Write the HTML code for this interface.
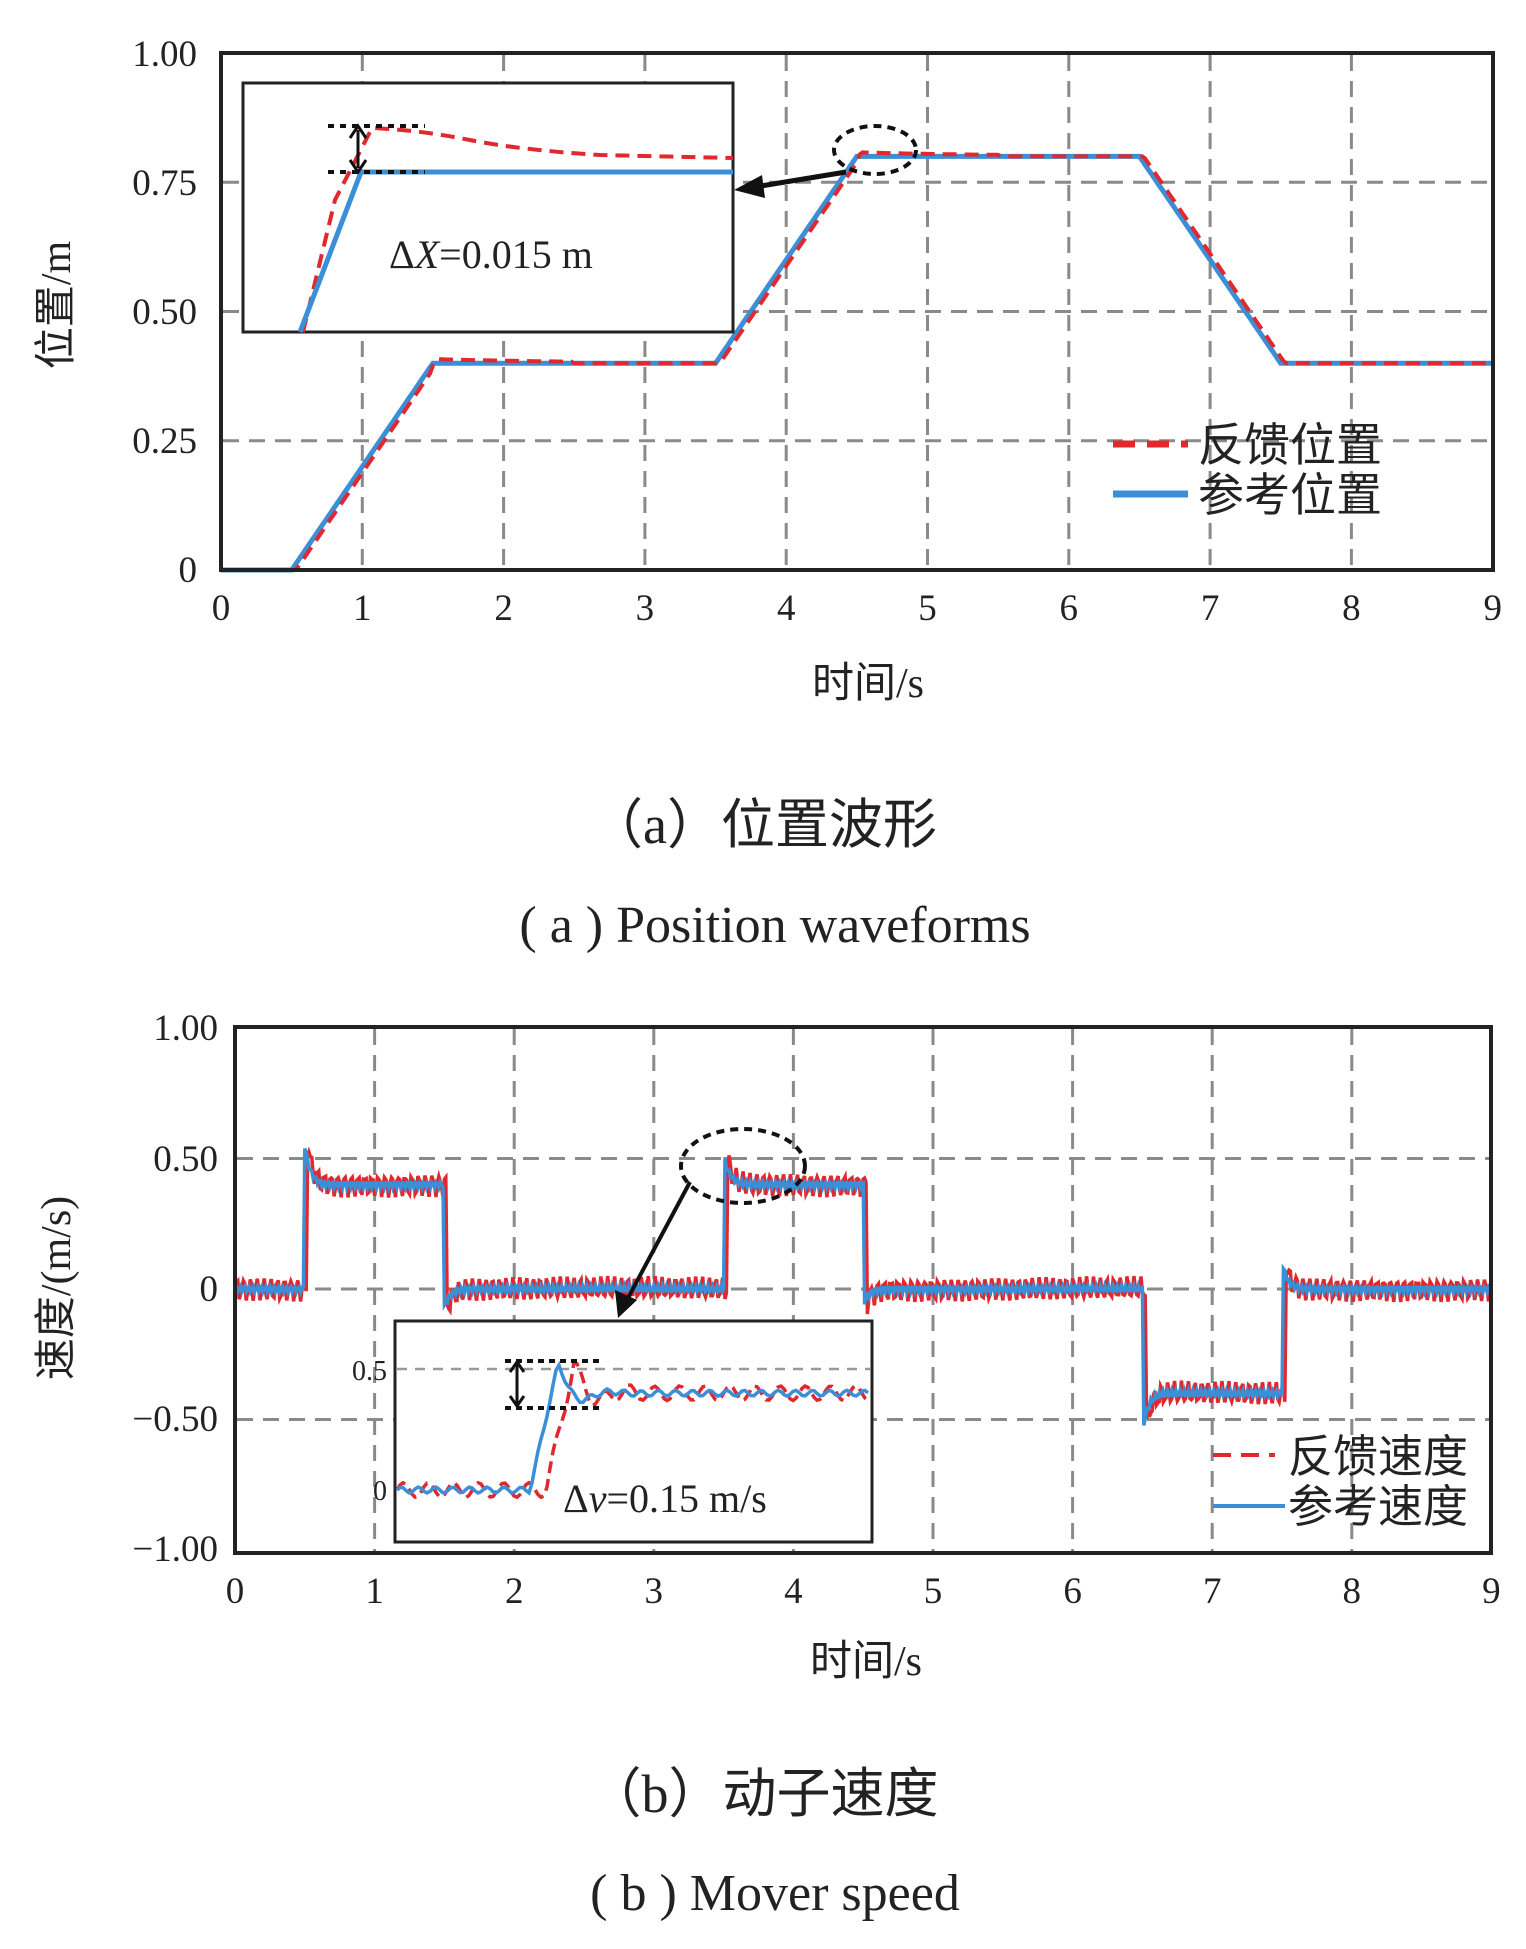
<!DOCTYPE html>
<html><head><meta charset="utf-8"><style>
html,body{margin:0;padding:0;background:#fff}
svg{display:block}
text{font-family:"Liberation Serif","Noto Serif CJK SC",serif;fill:#222}
.cj{font-family:"Liberation Serif","Noto Sans CJK SC",sans-serif}
</style></head><body>
<svg id="s" width="1526" height="1949" viewBox="0 0 1526 1949" xmlns="http://www.w3.org/2000/svg">
<rect width="1526" height="1949" fill="#fff"/>
<g id="grid" stroke="#8a8a8a" stroke-width="3" stroke-dasharray="16 10" fill="none"></g>
<!-- top plot -->
<g font-size="37" text-anchor="end">
<text x="197" y="66">1.00</text><text x="197" y="195">0.75</text><text x="197" y="324">0.50</text><text x="197" y="453">0.25</text><text x="197" y="582">0</text>
</g>
<g font-size="37" text-anchor="middle" id="xt1"></g>
<text x="868" y="697" font-size="42" text-anchor="middle" class="cj">时间/s</text>
<text transform="translate(70,305) rotate(-90)" font-size="42" text-anchor="middle" class="cj">位置/m</text>
<path id="p1b" fill="none" stroke="#3a8fd6" stroke-width="5"/>
<path id="p1r" fill="none" stroke="#e0282e" stroke-width="4" stroke-dasharray="14 8"/>
<!-- inset top -->
<rect x="243" y="83" width="490" height="249" fill="#fff" stroke="#222" stroke-width="3"/>
<path d="M303 332 L335 200 L372 128 Q420 130 470 140 T600 155 L733 158" fill="none" stroke="#e0282e" stroke-width="4" stroke-dasharray="14 8"/>
<path d="M300 332 L361 172 L733 172" fill="none" stroke="#3a8fd6" stroke-width="5"/>
<g stroke="#111" stroke-width="4" stroke-dasharray="6 6"><line x1="328" y1="126" x2="425" y2="126"/><line x1="328" y1="172" x2="425" y2="172"/></g>
<line x1="358" y1="130" x2="358" y2="168" stroke="#111" stroke-width="3"/>
<path d="M350 138 L358 126 L366 138 M350 160 L358 172 L366 160" stroke="#111" stroke-width="3" fill="none"/>
<text x="389" y="268" font-size="40">Δ<tspan font-style="italic">X</tspan>=0.015 m</text>
<ellipse cx="875" cy="150" rx="41" ry="24" fill="none" stroke="#111" stroke-width="4" stroke-dasharray="8 6"/>
<line x1="846" y1="172" x2="755" y2="187" stroke="#111" stroke-width="5"/>
<path d="M734 190 L762 175 L765 198 Z" fill="#111"/>
<rect x="221" y="53" width="1272" height="517" fill="none" stroke="#222" stroke-width="4"/>
<line x1="1113" y1="444" x2="1188" y2="444" stroke="#e0282e" stroke-width="7" stroke-dasharray="22 12"/>
<line x1="1113" y1="494" x2="1188" y2="494" stroke="#3a8fd6" stroke-width="7"/>
<text x="1198" y="461" font-size="46" class="cj">反馈位置</text>
<text x="1198" y="511" font-size="46" class="cj">参考位置</text>
<text x="763" y="843" font-size="54" text-anchor="middle" class="cj">（a）位置波形</text>
<text x="775" y="942" font-size="52" text-anchor="middle">( a ) Position waveforms</text>
<!-- bottom plot -->
<g font-size="37" text-anchor="end">
<text x="218" y="1040">1.00</text><text x="218" y="1171">0.50</text><text x="218" y="1301">0</text><text x="218" y="1431">−0.50</text><text x="218" y="1561">−1.00</text>
</g>
<g font-size="37" text-anchor="middle" id="xt2"></g>
<text x="866" y="1675" font-size="42" text-anchor="middle" class="cj">时间/s</text>
<text transform="translate(70,1288) rotate(-90)" font-size="42" text-anchor="middle" class="cj">速度/(m/s)</text>
<path id="p2r" fill="none" stroke="#e0282e" stroke-width="3.5"/>
<path id="p2b" fill="none" stroke="#3a8fd6" stroke-width="3.5"/>
<ellipse cx="743" cy="1166" rx="62" ry="37" fill="none" stroke="#111" stroke-width="4" stroke-dasharray="8 6"/>
<line x1="690" y1="1182" x2="628" y2="1298" stroke="#111" stroke-width="4"/>
<path d="M618 1318 L615 1290 L637 1300 Z" fill="#111"/>
<rect x="395" y="1321" width="477" height="221" fill="#fff" stroke="#222" stroke-width="3"/>
<g stroke="#999" stroke-width="2.5" stroke-dasharray="10 8"><line x1="397" y1="1369" x2="870" y2="1369"/></g>
<text x="387" y="1380" font-size="28" text-anchor="end">0.5</text>
<text x="387" y="1500" font-size="28" text-anchor="end">0</text>
<path id="i2r" fill="none" stroke="#e0282e" stroke-width="3.5" stroke-dasharray="12 6"/>
<path id="i2b" fill="none" stroke="#3a8fd6" stroke-width="3.5"/>
<g stroke="#111" stroke-width="4" stroke-dasharray="6 5"><line x1="505" y1="1361" x2="600" y2="1361"/><line x1="505" y1="1408" x2="600" y2="1408"/></g>
<line x1="517" y1="1364" x2="517" y2="1405" stroke="#111" stroke-width="3"/>
<path d="M510 1372 L517 1362 L524 1372 M510 1396 L517 1406 L524 1396" stroke="#111" stroke-width="3" fill="none"/>
<text x="563" y="1512" font-size="40">Δ<tspan font-style="italic">v</tspan>=0.15 m/s</text>
<rect x="235" y="1027" width="1256" height="526" fill="none" stroke="#222" stroke-width="4"/>
<line x1="1213" y1="1455" x2="1275" y2="1455" stroke="#e0282e" stroke-width="4" stroke-dasharray="18 10"/>
<line x1="1213" y1="1506" x2="1285" y2="1506" stroke="#3a8fd6" stroke-width="4"/>
<text x="1288" y="1472" font-size="45" class="cj">反馈速度</text>
<text x="1288" y="1522" font-size="45" class="cj">参考速度</text>
<text x="763" y="1812" font-size="54" text-anchor="middle" class="cj">（b）动子速度</text>
<text x="775" y="1910" font-size="52" text-anchor="middle">( b ) Mover speed</text>
</svg>
<script>
var NS="http://www.w3.org/2000/svg",g=document.getElementById('grid');
function L(a,b,c,d){var l=document.createElementNS(NS,'line');l.setAttribute('x1',a);l.setAttribute('y1',b);l.setAttribute('x2',c);l.setAttribute('y2',d);g.appendChild(l);}
function T(id,x,y,s){var t=document.createElementNS(NS,'text');t.setAttribute('x',x);t.setAttribute('y',y);t.textContent=s;document.getElementById(id).appendChild(t);}
var X1=function(t){return 221+141.3*t},Y1=function(v){return 570-517*v};
var X2=function(t){return 235+139.6*t},Y2=function(v){return 1289-261*v};
for(var i=0;i<=9;i++){T('xt1',X1(i),620,i);T('xt2',X2(i),1603,i);if(i>0&&i<9){L(X1(i),55,X1(i),568);L(X2(i),1029,X2(i),1551);}}
[0.25,0.5,0.75].forEach(function(v){L(223,Y1(v),1491,Y1(v));});
[0.5,0,-0.5].forEach(function(v){L(237,Y2(v),1489,Y2(v));});
function pos(t){if(t<0.5)return 0;if(t<1.5)return 0.4*(t-0.5);if(t<3.5)return 0.4;if(t<4.5)return 0.4+0.4*(t-3.5);if(t<6.5)return 0.8;if(t<7.5)return 0.8-0.4*(t-6.5);return 0.4;}
var b="",r="";for(var t=0;t<=9.0001;t+=0.02){b+=(t?"L":"M")+X1(t).toFixed(1)+" "+Y1(pos(t)).toFixed(1);var e=pos(t-0.03);if(t>1.5&&t<2.5||t>4.5&&t<5.5)e+=0.008*Math.exp(-(t%1.5));r+=(t?"L":"M")+X1(t).toFixed(1)+" "+Y1(e).toFixed(1);}
document.getElementById('p1b').setAttribute('d',b);document.getElementById('p1r').setAttribute('d',r);
function base(t){if(t<0.5)return 0;if(t<1.5)return 0.4;if(t<3.5)return 0;if(t<4.5)return 0.4;if(t<6.5)return 0;if(t<7.5)return -0.4;return 0;}
var ev=[[0.5,0.15],[1.5,-0.07],[3.5,0.12],[4.5,-0.06],[6.5,-0.15],[7.5,0.1]];
function vel(t){var v=base(t);ev.forEach(function(e){var d=t-e[0];if(d>0&&d<0.5)v+=e[1]*Math.exp(-d*25);});return v;}
b="";r="";var k=0;for(var t=0;t<=9.0001;t+=0.01,k++){var v=vel(t),n=0.012*Math.sin(k*2.1);b+=(k?"L":"M")+X2(t).toFixed(1)+" "+Y2(v+n).toFixed(1);var vr=vel(t-0.02)+0.035*Math.sin(k*1.3)+0.015*Math.sin(k*3.7);r+=(k?"L":"M")+X2(t).toFixed(1)+" "+Y2(vr).toFixed(1);}
document.getElementById('p2b').setAttribute('d',b);document.getElementById('p2r').setAttribute('d',r);
function iv(x,lag){var s=530+lag;if(x<s)return 0;if(x<s+28)return 0.52*(x-s)/28;var d=x-s-28;return 0.4+0.12*Math.exp(-d/18)*Math.cos(d/9);}
b="";r="";k=0;for(var x=397;x<=870;x+=3,k++){var yb=1490-242*(iv(x,0)+0.012*Math.sin(k*1.1));var yr=1490-242*(iv(x,16)+0.03*Math.sin(k*0.75));b+=(k?"L":"M")+x+" "+yb.toFixed(1);r+=(k?"L":"M")+x+" "+yr.toFixed(1);}
document.getElementById('i2b').setAttribute('d',b);document.getElementById('i2r').setAttribute('d',r);
</script>
</body></html>
